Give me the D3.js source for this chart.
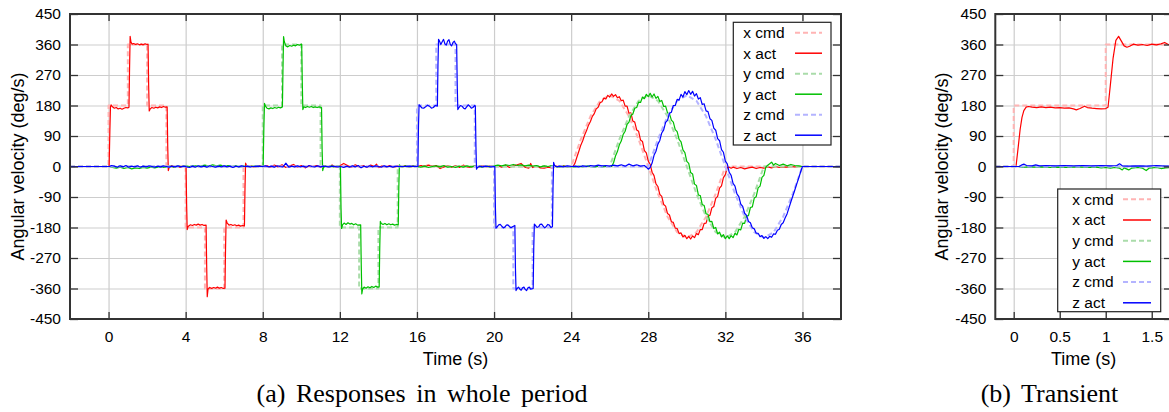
<!DOCTYPE html>
<html>
<head>
<meta charset="utf-8">
<script src="https://cdn.jsdelivr.net/npm/d3@7"></script>
<style>
  body { margin: 0; background: #fff; }
  svg { display: block; }
  .sans { font-family: "Liberation Sans", Arial, Helvetica, sans-serif; }
  .caption { font-family: "Liberation Serif", "Times New Roman", serif; font-size: 26px; word-spacing: 4px; }
</style>
</head>
<body>
<svg id="fig" width="1169" height="412"></svg>
<script>
// ---- shared axis values ----
var yTicks = [-450, -360, -270, -180, -90, 0, 90, 180, 270, 360, 450];
var xTicksA = [0, 4, 8, 12, 16, 20, 24, 28, 32, 36];
var xTicksB = [0, 0.5, 1, 1.5];
var legendLabels = ["x cmd", "x act", "y cmd", "y act", "z cmd", "z act"];

// ---- (a) responses in whole period: [time s, deg/s] ----
var xCmdA = [[-2,0],[0,0],[0,180],[1,180],[1,360],[2,360],[2,180],[3,180],[3,0],[4,0],[4,-180],[5,-180],[5,-360],[6,-360],[6,-180],[7,-180],[7,0],
  [24,0],[24.5,80],[25,148],[25.5,194],[26,210],[26.5,194],[27,148],[27.5,80],[28,0],[28.5,-80],[29,-148],[29.5,-194],[30,-210],[30.5,-194],[31,-148],[31.5,-80],[32,0],[38,0]];
var yCmdA = [[-2,0],[8,0],[8,180],[9,180],[9,360],[10,360],[10,180],[11,180],[11,0],[12,0],[12,-180],[13,-180],[13,-360],[14,-360],[14,-180],[15,-180],[15,0],
  [26,0],[26.5,80],[27,148],[27.5,194],[28,210],[28.5,194],[29,148],[29.5,80],[30,0],[30.5,-80],[31,-148],[31.5,-194],[32,-210],[32.5,-194],[33,-148],[33.5,-80],[34,0],[38,0]];
var zCmdA = [[-2,0],[16,0],[16,180],[17,180],[17,360],[18,360],[18,180],[19,180],[19,0],[20,0],[20,-180],[21,-180],[21,-360],[22,-360],[22,-180],[23,-180],[23,0],
  [28,0],[28.5,80],[29,148],[29.5,194],[30,210],[30.5,194],[31,148],[31.5,80],[32,0],[32.5,-80],[33,-148],[33.5,-194],[34,-210],[34.5,-194],[35,-148],[35.5,-80],[36,0],[38,0]];

var xActA = [[-2,0],[0.03,0],[0.07,110],[0.1,176],[0.13,182],[0.2,176],[0.3,172],[0.4,174],[0.5,170],[0.6,172],[0.7,169],[0.8,172],[0.9,174],[1.0,173],[1.06,175],
  [1.09,290],[1.12,384],[1.16,368],[1.22,361],[1.3,363],[1.4,360],[1.5,362],[1.6,359],[1.7,361],[1.8,359],[1.9,362],[2.0,360],[2.05,361],
  [2.08,240],[2.11,164],[2.16,170],[2.25,174],[2.35,172],[2.45,175],[2.55,173],[2.65,176],[2.75,174],[2.85,177],[2.95,175],[3.04,176],
  [3.07,60],[3.1,-12],[3.15,-2],[3.25,2],[3.4,-1],[3.55,1],[3.7,-2],[3.85,1],[4.02,0],
  [4.05,-110],[4.08,-186],[4.14,-176],[4.25,-172],[4.35,-174],[4.45,-171],[4.55,-173],[4.65,-170],[4.75,-173],[4.85,-171],[4.95,-174],[5.06,-173],
  [5.09,-290],[5.12,-384],[5.16,-362],[5.25,-357],[5.35,-360],[5.45,-357],[5.55,-359],[5.65,-356],[5.75,-359],[5.85,-357],[5.95,-360],[6.04,-359],
  [6.07,-240],[6.1,-158],[6.15,-166],[6.25,-173],[6.35,-171],[6.45,-174],[6.55,-172],[6.65,-175],[6.75,-173],[6.85,-176],[6.95,-174],[7.05,-175],
  [7.08,-60],[7.11,10],[7.16,2],[7.25,-1],
  [7.4,1],[7.6,-2],[7.8,2],[8.0,0],[8.2,3],[8.4,-2],[8.6,4],[8.8,-1],[9.0,5],[9.2,-3],[9.4,2],[9.6,6],[9.8,-2],[10.0,3],[10.2,-4],[10.4,2],[10.6,0],[10.8,3],
  [11.0,-2],[11.2,1],[11.4,-1],[11.6,4],[11.8,-2],[12.0,2],[12.2,9],[12.4,3],[12.6,-2],[12.8,5],[13.0,-1],[13.2,3],[13.4,-2],[13.6,4],[13.8,0],[13.9,7],[14.0,-3],
  [14.2,2],[14.4,-1],[14.6,3],[14.8,-2],[15.0,1],[15.2,-1],[15.4,2],[15.6,-2],[15.8,1],[16.0,0],[16.2,3],[16.4,2],[16.6,4],[16.8,1],[17.0,3],[17.2,-6],[17.4,-1],
  [17.6,2],[17.8,-2],[18.0,3],[18.2,-3],[18.4,4],[18.6,-1],[18.8,-3],[19.0,2],[19.2,-2],[19.4,3],[19.6,-1],[19.8,2],[20.0,0],[20.2,3],[20.4,-2],[20.6,4],[20.8,-3],
  [21.0,2],[21.2,5],[21.4,9],[21.6,-2],[21.8,-5],[21.9,9],[22.0,-3],[22.2,2],[22.4,-4],[22.6,-5],[22.8,-2],[23.0,-4],[23.2,1],[23.4,-1],[23.6,2],[23.8,-1],[24.0,0],[24.1,0],
  [24.2,10],[24.3,28],[24.4,45],[24.5,63],[24.6,76],[24.7,93],[24.8,106],[24.9,122],[25.0,133],[25.1,148],[25.2,156],[25.3,170],[25.4,175],[25.5,188],[25.6,191],
  [25.7,202],[25.8,199],[25.9,210],[26.0,205],[26.1,214],[26.2,207],[26.3,212],[26.4,203],[26.5,206],[26.6,194],[26.7,196],[26.8,178],[26.9,178],[27.0,157],
  [27.1,158],[27.2,134],[27.3,131],[27.4,108],[27.5,104],[27.6,78],[27.7,74],[27.8,47],[27.9,40],[28.0,16],[28.1,6],[28.2,-17],[28.3,-27],[28.4,-51],[28.5,-59],
  [28.6,-82],[28.7,-88],[28.8,-112],[28.9,-117],[29.0,-139],[29.1,-143],[29.2,-163],[29.3,-165],[29.4,-182],[29.5,-183],[29.6,-198],[29.7,-196],[29.8,-208],
  [29.9,-203],[30.0,-213],[30.1,-206],[30.2,-214],[30.3,-205],[30.4,-210],[30.5,-198],[30.6,-201],[30.7,-186],[30.8,-186],[30.9,-168],[31.0,-167],[31.1,-147],
  [31.2,-144],[31.3,-122],[31.4,-118],[31.5,-94],[31.6,-88],[31.7,-64],[31.8,-57],[31.9,-33],[32.0,-24],[32.1,-3],[32.2,-2],
  [32.3,-5],[32.4,-2],[32.6,-6],[32.8,-3],[33.0,-7],[33.2,-4],[33.4,-2],[33.6,-6],[33.8,-3],[34.0,-5],[34.2,-1],[34.4,-4],[34.6,0],[34.8,-3],[35.0,-1],
  [35.2,-2],[35.4,0],[35.6,-1],[35.8,0],[36.0,0],[38,0]];

var yActA = [[-2,0],[0.04,0],[0.2,-3],[0.4,-5],[0.6,-2],[0.8,-6],[1.0,-3],[1.2,-7],[1.4,-4],[1.6,-6],[1.8,-3],[2.0,-5],[2.2,-2],[2.4,-4],[2.6,-1],[2.8,-3],
  [3.0,-1],[3.2,1],[3.4,-2],[3.6,1],[3.8,0],[4.0,2],[4.2,0],[4.4,3],[4.6,1],[4.8,2],[5.0,4],[5.2,1],[5.4,5],[5.6,2],[5.8,4],[6.0,1],[6.2,3],[6.4,0],[6.6,2],
  [6.8,-1],[7.0,1],[7.2,0],[7.6,1],[8.02,0],
  [8.06,120],[8.09,186],[8.14,178],[8.22,172],[8.32,170],[8.42,173],[8.52,171],[8.62,174],[8.72,172],[8.82,175],[8.92,173],[9.02,176],
  [9.05,290],[9.08,383],[9.12,368],[9.2,356],[9.3,353],[9.4,357],[9.5,355],[9.6,358],[9.7,356],[9.8,360],[9.9,358],[10.02,361],
  [10.05,250],[10.08,168],[10.13,176],[10.22,174],[10.32,177],[10.42,175],[10.52,177],[10.62,174],[10.72,176],[10.82,174],[10.92,176],[11.05,174],
  [11.08,50],[11.11,-12],[11.16,-2],[11.25,1],[11.4,-1],[11.55,2],[11.7,-1],[11.85,1],[12.03,0],
  [12.06,-120],[12.09,-183],[12.14,-172],[12.22,-167],[12.32,-171],[12.42,-166],[12.52,-170],[12.62,-168],[12.72,-172],[12.82,-169],[12.92,-173],[13.08,-172],
  [13.11,-290],[13.14,-376],[13.18,-362],[13.26,-356],[13.36,-359],[13.46,-355],[13.56,-358],[13.66,-354],[13.76,-357],[13.86,-353],[13.96,-356],[14.04,-355],
  [14.07,-240],[14.1,-162],[14.15,-168],[14.24,-171],[14.34,-168],[14.44,-172],[14.54,-169],[14.64,-172],[14.74,-170],[14.84,-173],[14.94,-171],[15.03,-172],
  [15.06,-60],[15.09,5],[15.14,1],[15.25,-1],
  [15.4,2],[15.6,-1],[15.8,1],[16.0,0],[16.2,-2],[16.4,1],[16.6,-3],[16.8,0],[17.0,2],[17.2,-1],[17.4,3],[17.6,-2],[17.8,0],[18.0,-3],[18.2,1],[18.4,-2],
  [18.6,2],[18.8,-1],[19.0,1],[19.2,0],[19.4,-2],[19.6,1],[19.8,-1],[20.0,2],[20.2,4],[20.4,2],[20.6,5],[20.8,3],[21.0,6],[21.2,3],[21.4,5],[21.6,2],[21.8,4],
  [22.0,1],[22.2,3],[22.4,-1],[22.6,2],[22.8,0],[23.0,3],[23.2,0],[23.4,-2],[23.6,1],[23.8,-1],[24.0,0],[24.2,-2],[24.4,1],[24.6,-1],[24.8,2],[25.0,0],
  [25.2,-2],[25.4,1],[25.6,-1],[25.8,0],[26.0,0],[26.1,0],
  [26.2,11],[26.3,31],[26.4,44],[26.5,64],[26.6,75],[26.7,95],[26.8,104],[26.9,124],[27.0,131],[27.1,150],[27.2,155],[27.3,172],[27.4,174],[27.5,190],
  [27.6,189],[27.7,205],[27.8,200],[27.9,213],[28.0,206],[28.1,216],[28.2,205],[28.3,214],[28.4,201],[28.5,207],[28.6,192],[28.7,195],[28.8,177],[28.9,178],
  [29.0,158],[29.1,156],[29.2,137],[29.3,131],[29.4,109],[29.5,103],[29.6,80],[29.7,73],[29.8,49],[29.9,41],[30.0,15],[30.1,9],[30.2,-18],[30.3,-22],
  [30.4,-52],[30.5,-56],[30.6,-84],[30.7,-86],[30.8,-112],[30.9,-115],[31.0,-140],[31.1,-141],[31.2,-163],[31.3,-162],[31.4,-183],[31.5,-180],[31.6,-199],
  [31.7,-194],[31.8,-208],[31.9,-201],[32.0,-213],[32.1,-205],[32.2,-213],[32.3,-204],[32.4,-210],[32.5,-197],[32.6,-202],[32.7,-185],[32.8,-187],[32.9,-167],
  [33.0,-168],[33.1,-146],[33.2,-145],[33.3,-121],[33.4,-119],[33.5,-93],[33.6,-89],[33.7,-63],[33.8,-58],[33.9,-32],[34.0,-26],[34.1,-2],[34.2,4],
  [34.3,8],[34.4,13],[34.5,4],[34.6,9],[34.8,3],[35.0,7],[35.2,2],[35.4,6],[35.6,3],[35.8,2],[36.0,0],[38,0]];

var zActA = [[-2,0],[0.05,0],[0.15,3],[0.3,1],[0.45,-2],[0.6,2],[0.75,-1],[0.9,3],[1.05,-2],[1.2,1],[1.35,-1],[1.5,2],[1.65,-2],[1.8,1],[1.95,-1],[2.1,2],
  [2.25,0],[2.4,-2],[2.55,1],[2.7,-1],[2.85,2],[3.0,0],[3.15,-2],[3.3,1],[3.45,-1],[3.6,2],[3.75,-1],[3.9,1],[4.05,-1],[4.2,-3],[4.35,1],[4.5,-2],[4.65,2],
  [4.8,-1],[4.95,1],[5.1,-2],[5.25,2],[5.4,0],[5.55,-2],[5.7,1],[5.85,-1],[6.0,2],[6.15,-1],[6.3,1],[6.45,-3],[6.6,1],[6.75,-1],[6.9,2],[7.05,0],[7.2,1],
  [7.35,-1],[7.5,0],[7.8,1],[8.0,0],[8.15,2],[8.3,-1],[8.45,1],[8.6,-2],[8.75,2],[8.9,0],[9.05,-1],[9.2,10],[9.35,-2],[9.5,1],[9.65,-1],[9.8,2],[9.95,-1],
  [10.1,1],[10.25,-2],[10.4,3],[10.55,0],[10.7,-1],[10.85,2],[11.0,-1],[11.15,1],[11.3,0],[11.45,-1],[11.6,1],[11.75,0],[11.9,-1],[12.05,0],[12.2,-3],
  [12.35,1],[12.5,-2],[12.65,2],[12.8,-1],[12.95,3],[13.1,-4],[13.25,1],[13.4,-2],[13.55,2],[13.7,-1],[13.85,2],[14.0,0],[14.15,-2],[14.3,2],[14.45,-1],
  [14.6,1],[14.75,-2],[14.9,1],[15.05,0],[15.3,0],[15.6,1],[16.05,0],
  [16.08,120],[16.11,182],[16.15,180],[16.25,173],[16.35,172],[16.45,176],[16.55,181],[16.65,178],[16.75,172],[16.85,174],[16.95,180],[17.06,178],
  [17.09,300],[17.12,375],[17.17,370],[17.24,360],[17.31,368],[17.38,375],[17.45,362],[17.52,358],[17.59,370],[17.66,374],[17.73,360],[17.8,356],
  [17.87,366],[17.94,370],[18.0,362],[18.06,360],
  [18.09,240],[18.12,168],[18.18,174],[18.26,180],[18.34,178],[18.42,172],[18.5,170],[18.58,176],[18.66,182],[18.74,178],[18.82,172],[18.9,174],[19.0,180],[19.03,178],
  [19.06,60],[19.09,-8],[19.14,-3],[19.25,1],[19.4,-1],[19.55,1],[19.7,0],[19.85,-1],[20.04,0],
  [20.07,-120],[20.1,-182],[20.16,-178],[20.24,-172],[20.32,-171],[20.4,-176],[20.48,-181],[20.56,-179],[20.64,-173],[20.72,-172],[20.8,-177],[20.88,-181],
  [20.96,-178],[21.08,-174],
  [21.11,-300],[21.14,-366],[21.2,-360],[21.27,-356],[21.34,-362],[21.41,-365],[21.48,-358],[21.55,-356],[21.62,-363],[21.69,-366],[21.76,-358],[21.83,-356],
  [21.9,-362],[22.03,-360],
  [22.06,-240],[22.09,-170],[22.15,-174],[22.23,-180],[22.31,-178],[22.39,-171],[22.47,-170],[22.55,-176],[22.63,-181],[22.71,-177],[22.79,-171],[22.87,-173],
  [22.95,-180],[23.03,-178],
  [23.06,-60],[23.09,12],[23.14,3],[23.25,-1],
  [23.4,1],[23.6,-1],[23.8,2],[24.0,0],[24.2,1],[24.4,-1],[24.6,2],[24.8,0],[25.0,3],[25.2,1],[25.4,4],[25.6,2],[25.8,3],[26.0,1],[26.2,4],[26.4,2],[26.6,5],
  [26.8,1],[27.0,7],[27.2,2],[27.4,5],[27.6,1],[27.8,3],[27.9,-2],[28.0,-8],[28.1,-3],
  [28.2,10],[28.3,33],[28.4,45],[28.5,66],[28.6,77],[28.7,99],[28.8,108],[28.9,130],[29.0,136],[29.1,157],[29.2,160],[29.3,180],[29.4,180],[29.5,198],
  [29.6,196],[29.7,213],[29.8,205],[29.9,221],[30.0,212],[30.1,224],[30.2,213],[30.3,222],[30.4,208],[30.5,215],[30.6,199],[30.7,203],[30.8,183],[30.9,185],
  [31.0,164],[31.1,162],[31.2,141],[31.3,136],[31.4,113],[31.5,107],[31.6,82],[31.7,76],[31.8,50],[31.9,42],[32.0,16],[32.1,8],[32.2,-17],[32.3,-26],
  [32.4,-50],[32.5,-58],[32.6,-81],[32.7,-89],[32.8,-111],[32.9,-118],[33.0,-138],[33.1,-144],[33.2,-162],[33.3,-166],[33.4,-181],[33.5,-184],[33.6,-197],
  [33.7,-197],[33.8,-207],[33.9,-204],[34.0,-212],[34.1,-207],[34.2,-213],[34.3,-206],[34.4,-209],[34.5,-199],[34.6,-200],[34.7,-188],[34.8,-185],[34.9,-171],
  [35.0,-166],[35.1,-152],[35.2,-140],[35.3,-122],[35.4,-104],[35.5,-87],[35.6,-70],[35.7,-52],[35.8,-35],[35.9,-17],[36.0,0],[38,0]];

// ---- (b) transient ----
var xCmdB = [[-0.2,0],[0,0],[0,180],[1,180],[1,360],[1.8,360]];
var yCmdB = [[-0.2,0],[1.8,0]];
var zCmdB = [[-0.2,0],[1.8,0]];
var xActB = [[-0.2,0],[0.025,0],[0.05,60],[0.07,110],[0.09,145],[0.11,165],[0.135,175],[0.16,177],[0.2,175],[0.25,174],[0.3,176],[0.35,174],[0.4,175],
  [0.45,173],[0.5,174],[0.55,172],[0.6,173],[0.65,170],[0.68,167],[0.72,171],[0.77,178],[0.8,174],[0.85,172],[0.9,171],[0.95,170],[1.0,171],[1.025,175],
  [1.05,240],[1.08,320],[1.11,372],[1.14,384],[1.17,370],[1.2,356],[1.23,352],[1.26,355],[1.3,361],[1.35,358],[1.4,360],[1.45,357],[1.5,361],[1.55,359],
  [1.6,362],[1.64,366],[1.68,360],[1.8,361]];
var yActB = [[-0.2,0],[0.05,0],[0.1,-3],[0.15,-1],[0.2,-2],[0.3,-1],[0.4,-3],[0.5,-2],[0.6,-3],[0.7,-1],[0.8,-3],[0.9,-2],[0.95,-4],[1.0,-3],[1.05,-5],
  [1.1,-3],[1.15,-5],[1.18,-10],[1.2,-4],[1.25,-10],[1.28,-5],[1.35,-3],[1.4,-5],[1.44,-12],[1.47,-5],[1.5,-4],[1.55,-3],[1.6,-6],[1.65,-4],[1.8,-3]];
var zActB = [[-0.2,0],[0.06,0],[0.09,5],[0.11,7],[0.14,3],[0.2,2],[0.24,5],[0.28,2],[0.35,3],[0.45,2],[0.55,3],[0.65,2],[0.75,3],[0.85,2],[0.95,3],
  [1.05,2],[1.12,3],[1.15,8],[1.18,2],[1.25,1],[1.35,2],[1.45,1],[1.55,3],[1.65,1],[1.8,2]];

// line look for each legend entry (same order as legendLabels)
var lineStyles = [
  {color: "#ffb4b4", dash: true},
  {color: "#ff0000", dash: false},
  {color: "#aadcaa", dash: true},
  {color: "#00c000", dash: false},
  {color: "#b4b4ff", dash: true},
  {color: "#0000ff", dash: false}
];

var svg = d3.select("#fig");

function styleAxis(g) {
  g.select(".domain").remove();
  g.selectAll("line").attr("stroke", "#333").attr("stroke-width", 1.3);
  g.selectAll("text").attr("class", "sans").attr("font-size", "15.5px").attr("fill", "#000");
  g.attr("font-family", null).attr("font-size", null);
}

function drawPanel(p) {
  var w = p.right - p.left, h = p.bottom - p.top;
  var x = d3.scaleLinear().domain(p.xDomain).range([p.left, p.right]);
  var y = d3.scaleLinear().domain([-450, 450]).range([p.bottom, p.top]);
  var panel = svg.append("g").attr("id", p.id);

  panel.append("clipPath").attr("id", p.id + "-clip")
    .append("rect").attr("x", p.left).attr("y", p.top).attr("width", w).attr("height", h);

  // grid
  var gx = panel.append("g").attr("transform", "translate(0," + p.bottom + ")")
    .call(d3.axisBottom(x).tickValues(p.xTicks).tickSize(-h).tickFormat(""));
  var gy = panel.append("g").attr("transform", "translate(" + p.left + ",0)")
    .call(d3.axisLeft(y).tickValues(yTicks).tickSize(-w).tickFormat(""));
  [gx, gy].forEach(function(g) {
    g.select(".domain").remove();
    g.selectAll("line").attr("stroke", "#cdcdcd").attr("stroke-width", 1.2);
  });

  // data lines
  var line = d3.line().x(function(d) { return x(d[0]); }).y(function(d) { return y(d[1]); });
  var plot = panel.append("g").attr("clip-path", "url(#" + p.id + "-clip)");
  p.data.forEach(function(series, i) {
    var st = lineStyles[i];
    plot.append("path")
      .attr("d", line(series))
      .attr("fill", "none")
      .attr("stroke", st.color)
      .attr("stroke-width", st.dash ? 2 : 1.2)
      .attr("stroke-dasharray", st.dash ? "5,3" : null)
      .attr("stroke-linejoin", "round");
  });

  // ticks on all four sides, pointing in
  panel.append("g").attr("transform", "translate(0," + p.bottom + ")")
    .call(d3.axisBottom(x).tickValues(p.xTicks).tickSizeInner(-7).tickSizeOuter(0).tickPadding(11.5)
      .tickFormat(function(d) { return String(d); }))
    .call(styleAxis);
  panel.append("g").attr("transform", "translate(0," + p.top + ")")
    .call(d3.axisTop(x).tickValues(p.xTicks).tickSizeInner(-7).tickSizeOuter(0).tickFormat(""))
    .call(styleAxis);
  panel.append("g").attr("transform", "translate(" + p.left + ",0)")
    .call(d3.axisLeft(y).tickValues(yTicks).tickSizeInner(-8).tickSizeOuter(0).tickPadding(9)
      .tickFormat(function(d) { return String(d); }))
    .call(styleAxis);
  panel.append("g").attr("transform", "translate(" + p.right + ",0)")
    .call(d3.axisRight(y).tickValues(yTicks).tickSizeInner(-8).tickSizeOuter(0).tickFormat(""))
    .call(styleAxis);

  // border
  panel.append("rect")
    .attr("x", p.left).attr("y", p.top).attr("width", w).attr("height", h)
    .attr("fill", "none").attr("stroke", "#333").attr("stroke-width", 2);

  // axis titles
  panel.append("text").attr("class", "sans").attr("font-size", "18px")
    .attr("x", (p.left + p.right) / 2).attr("y", 365).attr("text-anchor", "middle")
    .text("Time (s)");
  panel.append("text").attr("class", "sans").attr("font-size", "18px")
    .attr("transform", "translate(" + p.yLabelX + "," + (p.top + p.bottom) / 2 + ") rotate(-90)")
    .attr("text-anchor", "middle")
    .text("Angular velocity (deg/s)");

  // legend
  var L = p.legend;
  var leg = panel.append("g");
  leg.append("rect").attr("x", L.x).attr("y", L.y).attr("width", L.w).attr("height", L.h)
    .attr("fill", "#fff").attr("stroke", "#222").attr("stroke-width", 1.2);
  legendLabels.forEach(function(lab, i) {
    var cy = L.row0 + i * L.step;
    leg.append("text").attr("class", "sans").attr("font-size", "15.5px")
      .attr("x", L.textX).attr("y", cy + 5.3).text(lab);
    leg.append("line").attr("x1", L.s0).attr("x2", L.s1).attr("y1", cy).attr("y2", cy)
      .attr("stroke", lineStyles[i].color)
      .attr("stroke-width", lineStyles[i].dash ? 2 : 1.5)
      .attr("stroke-dasharray", lineStyles[i].dash ? "5,3" : null);
  });

  // caption
  panel.append("text").attr("class", "caption")
    .attr("x", p.captionX).attr("y", 402).attr("text-anchor", "middle")
    .text(p.caption);
}

drawPanel({
  id: "pa", left: 70, right: 841, top: 14, bottom: 319,
  xDomain: [-2, 38], xTicks: xTicksA,
  data: [xCmdA, xActA, yCmdA, yActA, zCmdA, zActA],
  yLabelX: 24,
  legend: {x: 733.3, y: 22.3, w: 97.7, h: 122.7, row0: 32.7, step: 20.5, textX: 743.3, s0: 795, s1: 822},
  captionX: 422, caption: "(a) Responses in whole period"
});

drawPanel({
  id: "pb", left: 995.3, right: 1172, top: 14, bottom: 319,
  xDomain: [-0.2, 1.72], xTicks: xTicksB,
  data: [xCmdB, xActB, yCmdB, yActB, zCmdB, zActB],
  yLabelX: 948,
  legend: {x: 1057.7, y: 189, w: 103, h: 122.7, row0: 199.3, step: 20.7, textX: 1072.3, s0: 1123, s1: 1151},
  captionX: 1049.5, caption: "(b) Transient"
});
</script>
</body>
</html>
